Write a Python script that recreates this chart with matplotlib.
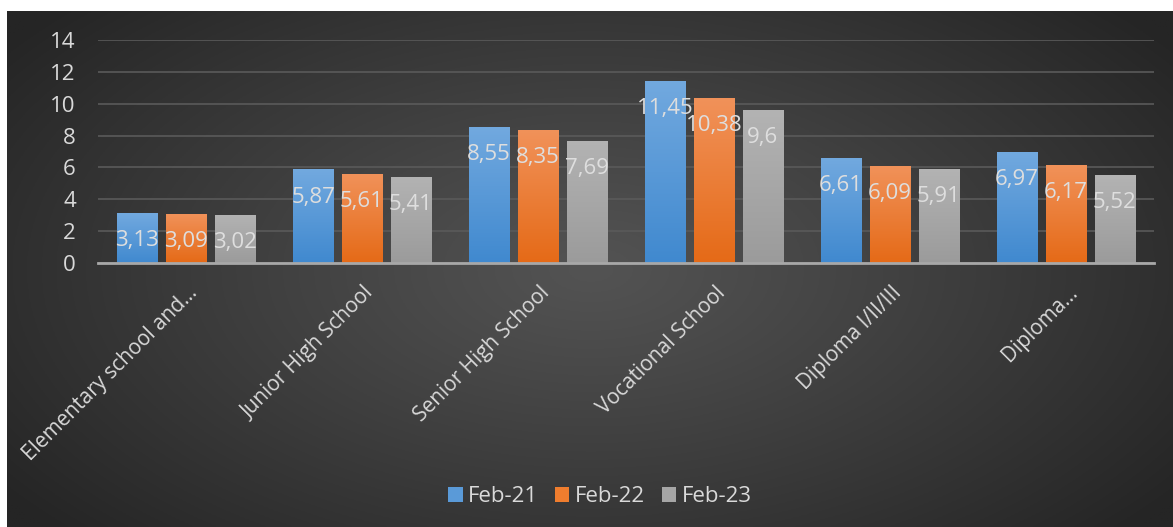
import numpy as np
import matplotlib
matplotlib.use("Agg")
import matplotlib.pyplot as plt
from matplotlib.colors import LinearSegmentedColormap
from matplotlib.patches import Patch
from matplotlib.transforms import ScaledTranslation

categories = ["Elementary school and...", "Junior High School", "Senior High School",
              "Vocational School", "Diploma I/II/III", "Diploma..."]
series_names = ["Feb-21", "Feb-22", "Feb-23"]
feb21 = [3.13, 5.87, 8.55, 11.45, 6.61, 6.97]
feb22 = [3.09, 5.61, 8.35, 10.38, 6.09, 6.17]
feb23 = [3.02, 5.41, 7.69, 9.6, 5.91, 5.52]
yticks = [0, 2, 4, 6, 8, 10, 12, 14]

series = [feb21, feb22, feb23]
tops = ["#72a9df", "#f1925a", "#b3b3b3"]
bottoms = ["#4089cf", "#e56a17", "#9b9b9b"]
legend_colors = ["#5a9ad8", "#ef7d2e", "#a6a6a6"]

plt.rcParams['font.family'] = ['Open Sans', 'DejaVu Sans']
W, H = 1173, 527
fig = plt.figure(figsize=(W / 100, H / 100), dpi=100)
fig.patch.set_facecolor("white")

# background radial gradient
bg = fig.add_axes([7 / W, 0, 1 - 7 / W, 1 - 11 / H])
bg.set_axis_off()
ny, nx = 260, 580
yy, xx = np.mgrid[0:ny, 0:nx]
cx, cy = 0.50 * nx, 0.50 * ny
r = np.sqrt(((xx - cx) / (0.62 * nx)) ** 2 + ((yy - cy) / (0.75 * ny)) ** 2)
r = np.clip(r, 0, 1)
c0 = np.array([0x53, 0x53, 0x53]) / 255
c1 = np.array([0x25, 0x25, 0x25]) / 255
img = c0[None, None, :] + (c1 - c0)[None, None, :] * r[:, :, None] ** 1.1
bg.imshow(img, extent=[0, 1, 0, 1], aspect='auto', origin='upper')
bg.set_xlim(0, 1)
bg.set_ylim(0, 1)

ax = fig.add_axes([98 / W, 1 - 263 / H, (1154 - 98) / W, (263 - 40) / H])
ax.patch.set_alpha(0)

x = np.arange(len(categories))
bw = 0.228
step = 0.278
for i, (vals, name) in enumerate(zip(series, series_names)):
    pos = x + (i - 1) * step
    bars = ax.bar(pos, vals, width=bw, color=legend_colors[i], label=name, zorder=3)
    cmap = LinearSegmentedColormap.from_list("g%d" % i, [bottoms[i], tops[i]])
    grad = np.linspace(0, 1, 256).reshape(-1, 1)
    for b, v in zip(bars, vals):
        x0 = b.get_x()
        im = ax.imshow(grad, cmap=cmap, origin='lower', aspect='auto',
                       extent=[x0, x0 + bw, 0, v], zorder=3.1)
        im.set_clip_path(b)
        ax.annotate(str(v).replace('.', ','), xy=(b.get_x() + bw / 2, v),
                    xytext=(0, -20), textcoords='offset points',
                    ha='center', va='center', fontsize=16, color='#dedede',
                    zorder=5)
ax.set_xlim(-0.5, len(categories) - 0.5)
ax.set_ylim(0, 14)

ax.set_yticks(yticks)
ax.set_yticklabels([str(t) for t in yticks])
ax.yaxis.grid(True, color='#5a5a5a', linewidth=1.2, zorder=0)
ax.set_axisbelow(True)
for s in ['top', 'right', 'left']:
    ax.spines[s].set_visible(False)
ax.spines['bottom'].set_color('#a8a8a8')
ax.spines['bottom'].set_linewidth(2)
ax.spines['bottom'].set_zorder(4)
ax.tick_params(axis='y', length=0, pad=16, labelsize=16, labelcolor='#d9d9d9')
ax.tick_params(axis='x', length=0, pad=6, labelsize=15, labelcolor='#d9d9d9')
ax.set_xticks(x)
ax.set_xticklabels(categories, rotation=45, ha='right', va='top', rotation_mode='anchor')
off = ScaledTranslation(0.01, -0.11, fig.dpi_scale_trans)
for lab in ax.get_xticklabels():
    lab.set_transform(lab.get_transform() + off)

handles = [Patch(facecolor=c, edgecolor='none') for c in legend_colors]
leg = fig.legend(handles, series_names, loc='center', bbox_to_anchor=(600 / W, 1 - 497 / H),
                 ncol=3, frameon=False, fontsize=16, labelcolor='#d9d9d9',
                 handlelength=0.65, handleheight=0.65, handletextpad=0.25, columnspacing=0.75)

fig.savefig("out.png", dpi=100, facecolor=fig.get_facecolor())
